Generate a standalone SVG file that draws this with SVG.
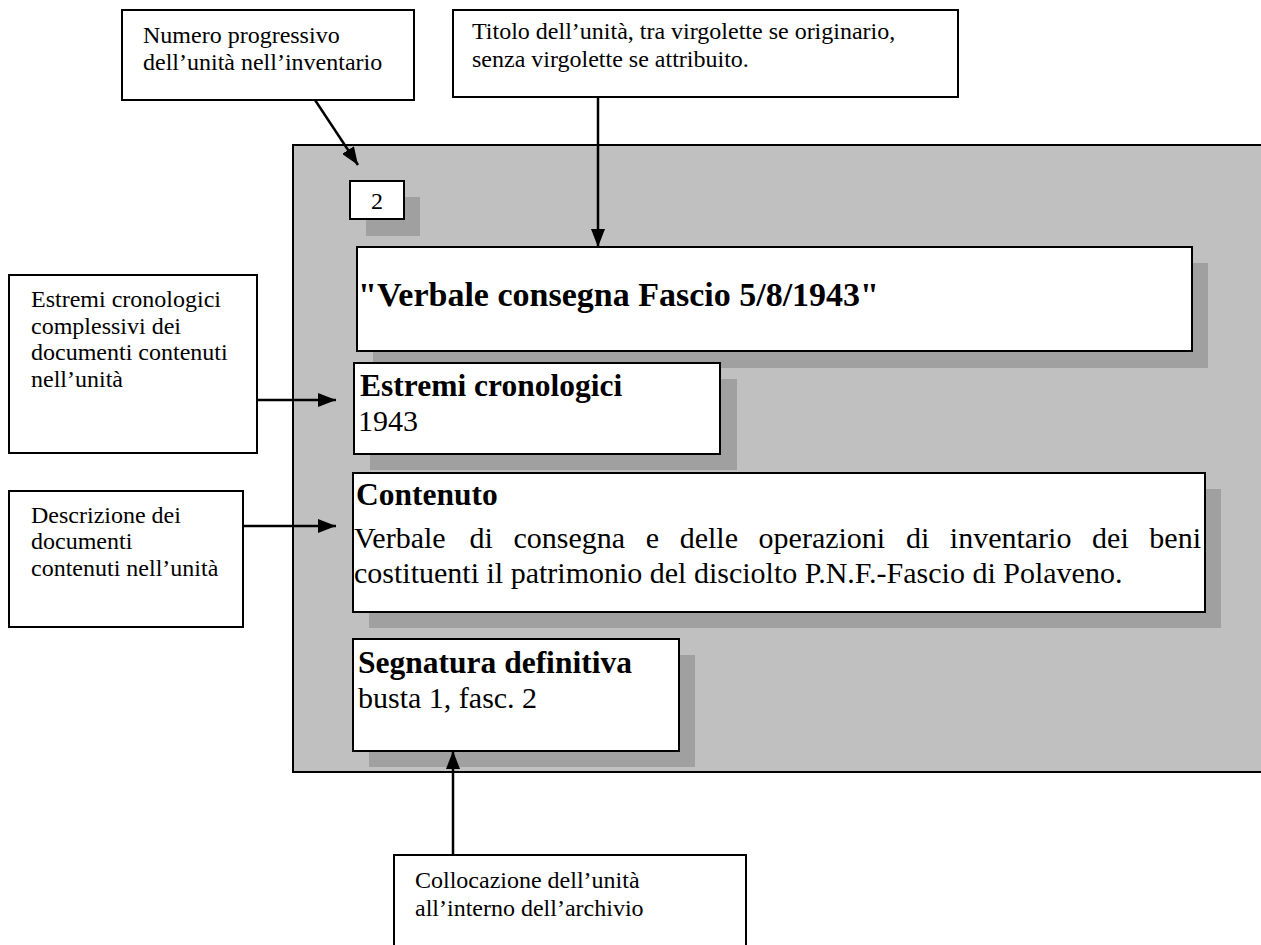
<svg xmlns="http://www.w3.org/2000/svg" width="1261" height="945" viewBox="0 0 1261 945">
<defs>
<style>
.lbl{fill:#fff;stroke:#000;stroke-width:2}
.card{fill:#fff;stroke:#000;stroke-width:2}
.shadow{fill:#a0a0a0}
.t{font-family:"Liberation Serif","Times New Roman",serif;font-size:24px;fill:#000}
.c{font-family:"Liberation Serif","Times New Roman",serif;font-size:30px;fill:#000}
.b{font-family:"Liberation Serif","Times New Roman",serif;font-size:31.5px;font-weight:bold;fill:#000}
.conn{stroke:#000;stroke-width:2.5;fill:none;marker-end:url(#ah)}
</style>
<marker id="ah" viewBox="0 0 18 14" refX="18" refY="7" markerWidth="18" markerHeight="14" markerUnits="userSpaceOnUse" orient="auto">
<path d="M0,0 L18,7 L0,14 z" fill="#000"/>
</marker>
</defs>
<rect width="1261" height="945" fill="#fff"/>

<g id="panel">
<rect x="293" y="145" width="980" height="627" fill="#c0c0c0" stroke="#000" stroke-width="2"/>
</g>

<g id="number">
<rect class="shadow" x="366" y="197" width="54" height="39"/>
<rect class="card" x="350" y="181" width="54" height="38"/>
<text class="t" x="377" y="209" text-anchor="middle">2</text>
</g>

<g id="title">
<rect class="shadow" x="373" y="263" width="835" height="105"/>
<rect class="card" x="357" y="247" width="835" height="104"/>
<text class="b" x="358" y="306" style="font-size:34px">"Verbale consegna Fascio 5/8/1943"</text>
</g>

<g id="estremi">
<rect class="shadow" x="370" y="379" width="367" height="91"/>
<rect class="card" x="354" y="363" width="366" height="91"/>
<text class="b" x="360" y="396">Estremi cronologici</text>
<text class="c" x="358" y="431">1943</text>
</g>

<g id="contenuto">
<rect class="shadow" x="369" y="489" width="852" height="139"/>
<rect class="card" x="353" y="473" width="852" height="139"/>
<text class="b" x="356" y="505">Contenuto</text>
<text class="c" y="548"><tspan x="354">Verbale</tspan><tspan x="469.6">di</tspan><tspan x="513.5">consegna</tspan><tspan x="645.8">e</tspan><tspan x="679.7">delle</tspan><tspan x="758.6">operazioni</tspan><tspan x="905.9">di</tspan><tspan x="949.8">inventario</tspan><tspan x="1092.1">dei</tspan><tspan x="1201" text-anchor="end">beni</tspan></text>
<text class="c" x="354" y="583">costituenti il patrimonio del disciolto P.N.F.-Fascio di Polaveno.</text>
</g>

<g id="segnatura">
<rect class="shadow" x="369" y="655" width="326" height="112"/>
<rect class="card" x="353" y="639" width="326" height="112"/>
<text class="b" x="358" y="673">Segnatura definitiva</text>
<text class="c" x="358" y="708">busta 1, fasc. 2</text>
</g>

<g id="lbl-numero">
<rect class="lbl" x="122" y="10" width="292" height="90"/>
<text class="t" x="143" y="43">Numero progressivo</text>
<text class="t" x="143" y="70">dell’unità nell’inventario</text>
</g>

<g id="lbl-titolo">
<rect class="lbl" x="453" y="10" width="505" height="87"/>
<text class="t" x="472" y="39">Titolo dell’unità, tra virgolette se originario,</text>
<text class="t" x="472" y="67">senza virgolette se attribuito.</text>
</g>

<g id="lbl-estremi">
<rect class="lbl" x="9" y="275" width="248" height="178"/>
<text class="t" x="31" y="307">Estremi cronologici</text>
<text class="t" x="31" y="334">complessivi dei</text>
<text class="t" x="31" y="360">documenti contenuti</text>
<text class="t" x="31" y="387">nell’unità</text>
</g>

<g id="lbl-descrizione">
<rect class="lbl" x="9" y="491" width="234" height="136"/>
<text class="t" x="31" y="523">Descrizione dei</text>
<text class="t" x="31" y="549">documenti</text>
<text class="t" x="31" y="576">contenuti nell’unità</text>
</g>

<g id="lbl-collocazione">
<rect class="lbl" x="394" y="855" width="352" height="100"/>
<text class="t" x="415" y="888">Collocazione dell’unità</text>
<text class="t" x="415" y="916">all’interno dell’archivio</text>
</g>

<g id="connectors">
<path class="conn" d="M315,100 L358,165"/>
<path class="conn" d="M598,97 L598,247"/>
<path class="conn" d="M257,400 L336,400"/>
<path class="conn" d="M243,526 L336,526"/>
<path class="conn" d="M453,855 L453,751"/>
</g>
</svg>
